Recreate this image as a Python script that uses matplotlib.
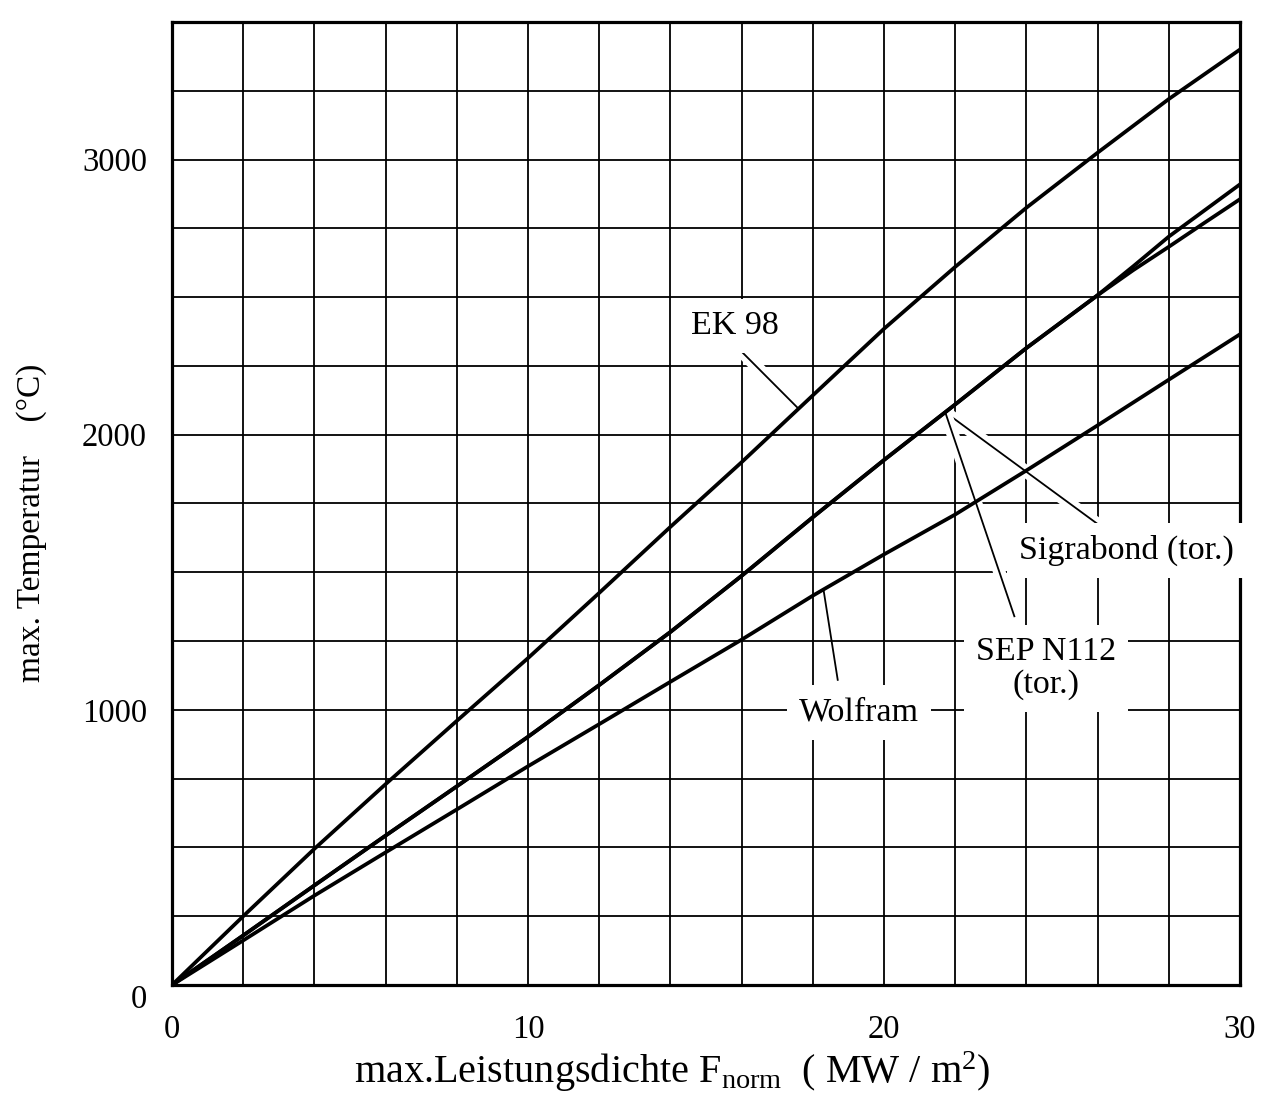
import numpy as np
import matplotlib
matplotlib.use("Agg")
import matplotlib.pyplot as plt
import matplotlib.patheffects as pe

# ---------------- data ----------------
F = [0, 2, 4, 6, 8, 10, 12, 14, 16, 18, 20, 22, 24, 26, 28, 30]
EK98 = [0, 250, 495, 730, 960, 1188, 1425, 1665, 1900, 2143, 2385, 2610, 2825, 3025, 3220, 3400]
WOLFRAM = [0, 162, 325, 482, 638, 795, 948, 1102, 1255, 1415, 1565, 1710, 1870, 2034, 2200, 2365]

F_TOR = [0, 2, 4, 6, 8, 10, 12, 14, 16, 18, 20, 22, 24, 26, 27, 28, 29, 30]
SEP_N112 = [0, 180, 362, 543, 722, 902, 1090, 1283, 1487, 1700, 1908, 2110, 2315, 2507,
            2612, 2720, 2815, 2910]
SIGRABOND = [0, 180, 362, 543, 722, 902, 1090, 1283, 1487, 1700, 1908, 2110, 2315, 2507,
             2598, 2683, 2770, 2856]

XTICKS = [0, 10, 20, 30]
YTICKS = [0, 1000, 2000, 3000]
XGRID = list(range(0, 31, 2))
YGRID = list(range(0, 3501, 250))

XLABEL = r"max.Leistungsdichte F$_{\mathrm{norm}}$  ( MW / m$^{2}$)"
YLABEL = "max. Temperatur    (°C)"

# ---------------- style ----------------
plt.rcParams["font.family"] = ["Liberation Serif", "DejaVu Serif"]
plt.rcParams["mathtext.fontset"] = "custom"
plt.rcParams["mathtext.rm"] = "Liberation Serif"
plt.rcParams["mathtext.it"] = "Liberation Serif:italic"
plt.rcParams["mathtext.bf"] = "Liberation Serif:bold"

W, H = 1279, 1104
fig = plt.figure(figsize=(W / 100, H / 100), dpi=100)
fig.patch.set_facecolor("white")

L, R, T, B = 172, 1240, 22, 985
ax = fig.add_axes([L / W, 1 - B / H, (R - L) / W, (B - T) / H])
ax.set_xlim(0, 30)
ax.set_ylim(0, 3500)

ax.set_xticks(XTICKS)
ax.set_yticks(YTICKS)
ax.set_xticks(XGRID, minor=True)
ax.set_yticks(YGRID, minor=True)
ax.set_xticklabels([str(t) for t in XTICKS])
ylabels = ax.set_yticklabels([str(t) for t in YTICKS])
ylabels[0].set_va("top")
ax.tick_params(which="both", length=0)
ax.tick_params(axis="x", which="major", pad=21, labelsize=23.5)
ax.tick_params(axis="y", which="major", pad=18, labelsize=23.5)
ax.set_axisbelow(True)
ax.grid(True, which="both", color="black", linewidth=1.3)
for s in ax.spines.values():
    s.set_linewidth(2.3)
    s.set_color("black")

curve_kw = dict(color="black", linewidth=2.7, zorder=3, solid_capstyle="round")
ax.plot(F, EK98, **curve_kw)
ax.plot(F_TOR, SEP_N112, **curve_kw)
ax.plot(F_TOR, SIGRABOND, **curve_kw)
ax.plot(F, WOLFRAM, **curve_kw)


def on_curve(xs, ys, x):
    return float(np.interp(x, xs, ys))


leader_kw = dict(color="black", linewidth=1.3, zorder=2.5, solid_capstyle="butt",
                 path_effects=[pe.Stroke(linewidth=9, foreground="white"), pe.Normal()])
box = dict(boxstyle="square,pad=0.35", facecolor="white", edgecolor="none")
txt_kw = dict(fontsize=24.5, ha="center", va="center", zorder=4, bbox=box)

# EK 98
ax.plot([15.8, 17.6], [2328, on_curve(F, EK98, 17.6)], **leader_kw)
ax.text(15.8, 2395, "EK 98", **txt_kw)

# Sigrabond / SEP N112 (common leader origin on the torus curves)
x0 = 21.72
y0 = on_curve(F_TOR, SEP_N112, x0)
ax.plot([x0, 26.1], [y0, 1666], **leader_kw)
ax.plot([x0, 23.67], [y0, 1337], **leader_kw)
ax.text(26.8, 1578, "Sigrabond (tor.)", **txt_kw)
ax.text(24.56, 1150, "SEP N112\n(tor.)", linespacing=1.1, **txt_kw)

# Wolfram
ax.plot([18.7, 18.3], [1109, on_curve(F, WOLFRAM, 18.3)],
        color="black", linewidth=1.3, zorder=2.5)
ax.text(19.3, 990, "Wolfram", **txt_kw)

# axis titles
fig.text(672 / W, 1 - 1083 / H, XLABEL, fontsize=29, ha="center", va="baseline")
fig.text(32 / W, 1 - 523 / H, YLABEL, fontsize=24, rotation=90, ha="center", va="center")

fig.savefig("out.png", dpi=100, facecolor="white")
